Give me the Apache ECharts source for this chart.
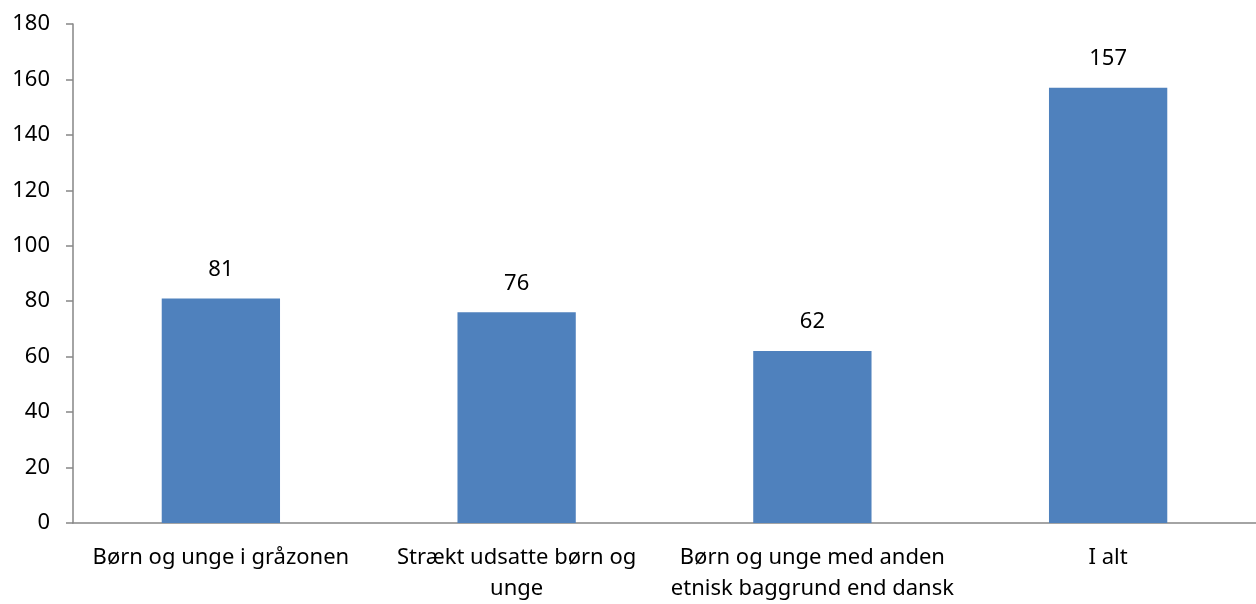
<!DOCTYPE html>
<html>
<head>
<meta charset="utf-8">
<script src="https://cdn.jsdelivr.net/npm/echarts@6/dist/echarts.min.js"></script>
<style>
  html, body { margin: 0; padding: 0; background: #fff; }
  #main { width: 1256px; height: 604px; }
</style>
</head>
<body>
<div id="main"></div>
<script>
  // data
  var categories = [
    'Børn og unge i gråzonen',
    'Strækt udsatte børn og\nunge',
    'Børn og unge med anden\netnisk baggrund end dansk',
    'I alt'
  ];
  var values = [81, 76, 62, 157];
  var yTicks = { min: 0, max: 180, interval: 20 };

  var chart = echarts.init(document.getElementById('main'));
  var font = 'Noto Sans';
  var axisGray = '#868686';

  var option = {
    animation: false,
    grid: { left: 73, right: 0, top: 24, bottom: 81 },
    xAxis: {
      type: 'category',
      data: categories,
      axisLine: { lineStyle: { color: axisGray, width: 1.5 } },
      axisTick: { length: 7, lineStyle: { color: axisGray, width: 1.5 } },
      axisLabel: {
        color: '#000',
        fontFamily: font,
        fontSize: 22,
        lineHeight: 31,
        margin: 19,
        interval: 0
      }
    },
    yAxis: {
      type: 'value',
      min: yTicks.min,
      max: yTicks.max,
      interval: yTicks.interval,
      axisLine: { show: true, lineStyle: { color: axisGray, width: 1.5 } },
      axisTick: { show: true, length: 7, lineStyle: { color: axisGray, width: 1.5 } },
      splitLine: { show: false },
      axisLabel: {
        color: '#000',
        fontFamily: font,
        fontSize: 22,
        margin: 23
      }
    },
    series: [{
      type: 'bar',
      data: values,
      barWidth: '40%',
      itemStyle: { color: '#4F81BD' },
      label: {
        show: true,
        position: 'top',
        distance: 18,
        color: '#000',
        fontFamily: font,
        fontSize: 22
      }
    }]
  };

  chart.setOption(option);
</script>
</body>
</html>
